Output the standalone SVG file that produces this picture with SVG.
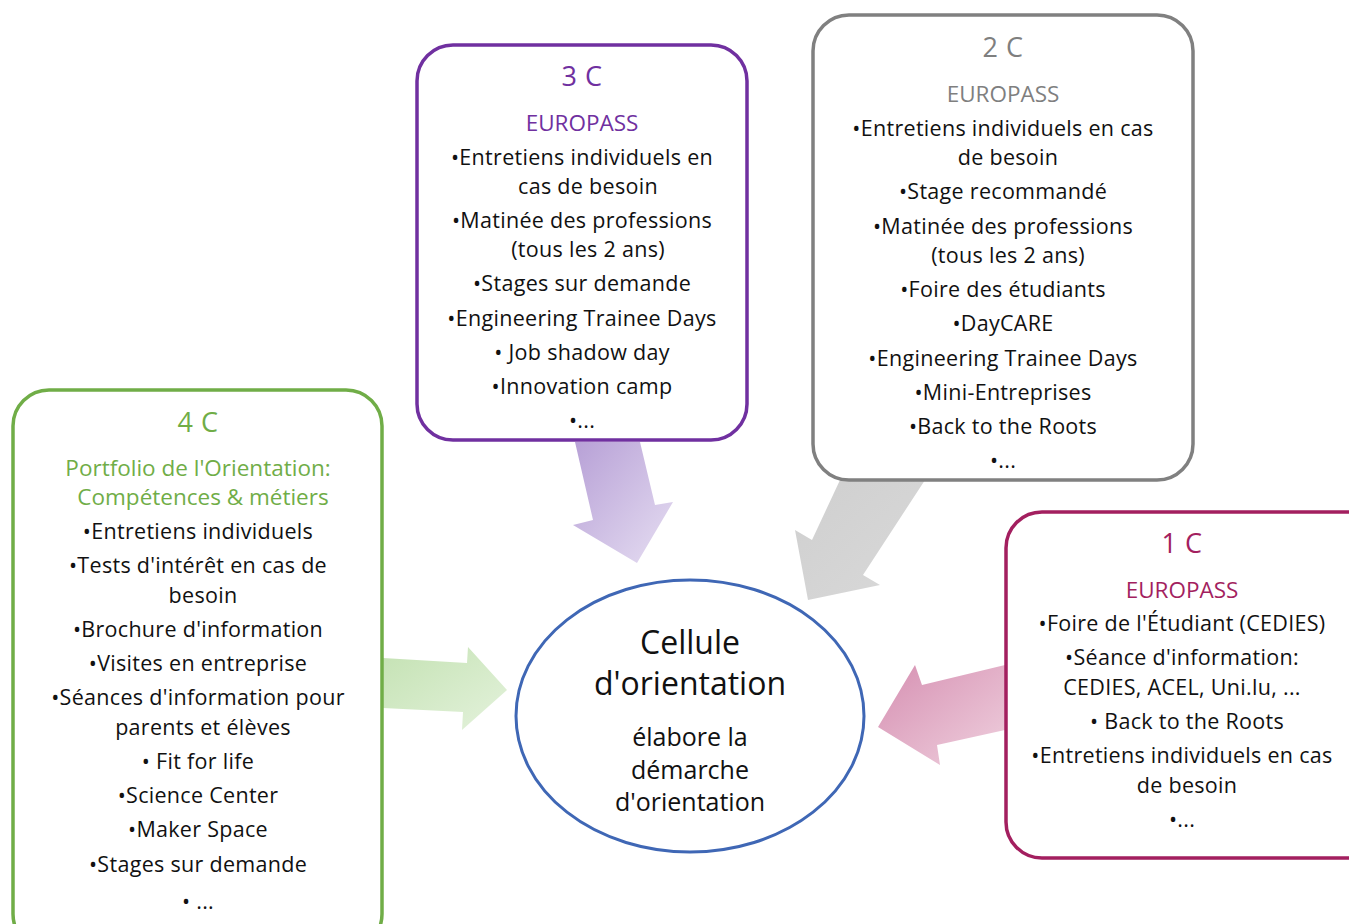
<svg xmlns="http://www.w3.org/2000/svg" width="1349" height="924" viewBox="0 0 1349 924">
<defs>
<linearGradient id="gP" x1="0" y1="0" x2="1" y2="1"><stop offset="0" stop-color="#b7a0d6"/><stop offset="1" stop-color="#e6def2"/></linearGradient>
<linearGradient id="gG" x1="0" y1="0" x2="1" y2="1"><stop offset="0" stop-color="#cfcfcf"/><stop offset="1" stop-color="#d9d9d9"/></linearGradient>
<linearGradient id="gM" x1="0" y1="0" x2="1" y2="1"><stop offset="0" stop-color="#d690b2"/><stop offset="1" stop-color="#efd0de"/></linearGradient>
<linearGradient id="gV" x1="0" y1="0" x2="1" y2="1"><stop offset="0" stop-color="#c4e2b3"/><stop offset="1" stop-color="#e4f2dc"/></linearGradient>
</defs>
<style>
text{font-family:"Open Sans","Noto Sans","DejaVu Sans",sans-serif;text-anchor:middle;fill:#111;font-size:21.5px;letter-spacing:0.3px}
.t{font-size:27px;letter-spacing:0.5px}
.h{font-size:22.5px;letter-spacing:0}
.box{fill:#fff;stroke-width:3.5}
.c1{font-size:32px;letter-spacing:0}
.c2{font-size:25px;letter-spacing:0}
</style>
<rect width="1349" height="924" fill="#fff"/>
<g id="connectors">
<polygon points="575,442 640,442 655,505 673,502 637,563 573,525 593,520" fill="url(#gP)"/>
<polygon points="840,480 925,480 863,575 880,585 808,600 795,530 812,540" fill="url(#gG)"/>
<polygon points="1005,665 922,685 915,665 878,727 940,765 937,745 1005,730" fill="url(#gM)"/>
<polygon points="383,658 467,663 468,647 507,690 462,730 463,712 383,708" fill="url(#gV)"/>
</g>
<g id="node-3c">
<rect class="box" x="417" y="45" width="330" height="395" rx="36" stroke="#7030a0"/>
<text class="t" x="582" y="86" style="fill:#7030a0">3  C</text>
<text class="h" x="582" y="131" style="fill:#7030a0">EUROPASS</text>
<text x="582" y="165">•Entretiens individuels en</text>
<text x="588" y="194">cas de besoin</text>
<text x="582" y="228">•Matinée des professions</text>
<text x="588" y="257">(tous les 2 ans)</text>
<text x="582" y="291">•Stages sur demande</text>
<text x="582" y="326">•Engineering Trainee Days</text>
<text x="582" y="360">• Job shadow day</text>
<text x="582" y="394">•Innovation camp</text>
<text x="582" y="428">•...</text>
</g>
<g id="node-2c">
<rect class="box" x="813" y="15" width="380" height="465" rx="36" stroke="#808080"/>
<text class="t" x="1003" y="57" style="fill:#7f7f7f">2 C</text>
<text class="h" x="1003" y="102" style="fill:#7f7f7f">EUROPASS</text>
<text x="1003" y="136">•Entretiens individuels en cas</text>
<text x="1008" y="165">de besoin</text>
<text x="1003" y="199">•Stage recommandé</text>
<text x="1003" y="234">•Matinée des professions</text>
<text x="1008" y="263">(tous les 2 ans)</text>
<text x="1003" y="297">•Foire des étudiants</text>
<text x="1003" y="331">•DayCARE</text>
<text x="1003" y="366">•Engineering Trainee Days</text>
<text x="1003" y="400">•Mini-Entreprises</text>
<text x="1003" y="434">•Back to the Roots</text>
<text x="1003" y="468">•...</text>
</g>
<g id="node-4c">
<rect class="box" x="13" y="390" width="369" height="560" rx="36" stroke="#70ad47"/>
<text class="t" x="198" y="432" style="fill:#70ad47">4 C</text>
<text class="h" x="198" y="476" style="fill:#70ad47">Portfolio de l'Orientation:</text>
<text class="h" x="203" y="505" style="fill:#70ad47">Compétences &amp; métiers</text>
<text x="198" y="539">•Entretiens individuels</text>
<text x="198" y="573">•Tests d'intérêt en cas de</text>
<text x="203" y="603">besoin</text>
<text x="198" y="637">•Brochure d'information</text>
<text x="198" y="671">•Visites en entreprise</text>
<text x="198" y="705">•Séances d'information pour</text>
<text x="203" y="735">parents et élèves</text>
<text x="198" y="769">• Fit for life</text>
<text x="198" y="803">•Science Center</text>
<text x="198" y="837">•Maker Space</text>
<text x="198" y="872">•Stages sur demande</text>
<text x="198" y="909">• ...</text>
</g>
<g id="node-1c">
<rect class="box" x="1006" y="512" width="380" height="346" rx="36" stroke="#a31f5f"/>
<text class="t" x="1182" y="553" style="fill:#a31f5f">1 C</text>
<text class="h" x="1182" y="598" style="fill:#a31f5f">EUROPASS</text>
<text x="1182" y="631">•Foire de l'Étudiant (CEDIES)</text>
<text x="1182" y="665">•Séance d'information:</text>
<text x="1182" y="695">CEDIES, ACEL, Uni.lu, ...</text>
<text x="1187" y="729">• Back to the Roots</text>
<text x="1182" y="763">•Entretiens individuels en cas</text>
<text x="1187" y="793">de besoin</text>
<text x="1182" y="827">•...</text>
</g>
<g id="node-center">
<ellipse cx="690" cy="716" rx="174" ry="136" fill="#fff" stroke="#3f67b5" stroke-width="3"/>
<text class="c1" x="690" y="654">Cellule</text>
<text class="c1" x="690" y="695">d'orientation</text>
<text class="c2" x="690" y="746">élabore la</text>
<text class="c2" x="690" y="779">démarche</text>
<text class="c2" x="690" y="811">d'orientation</text>
</g>
</svg>
